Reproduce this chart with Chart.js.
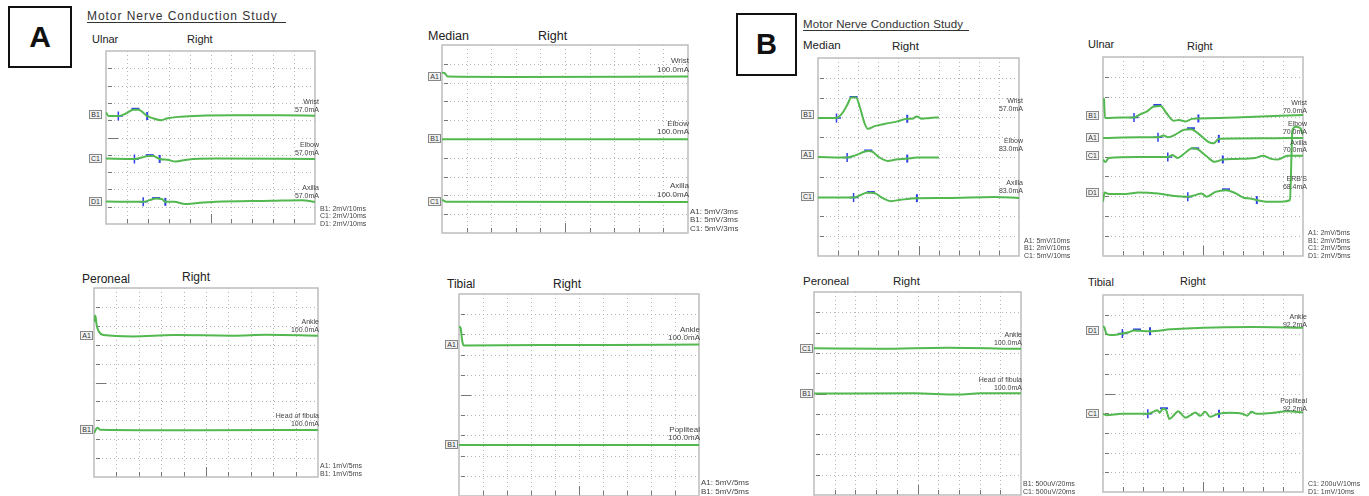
<!DOCTYPE html>
<html>
<head>
<meta charset="utf-8">
<script src="https://cdn.jsdelivr.net/npm/chart.js@4.4.1/dist/chart.umd.min.js"></script>
<style>
body{margin:0;background:#fff;}
#page{position:relative;width:1369px;height:496px;overflow:hidden;background:#fff;font-family:"Liberation Sans",Arial,sans-serif;color:#222;}
#page canvas{position:absolute;}
.t{position:absolute;white-space:nowrap;}
.lbl{position:absolute;white-space:nowrap;text-align:right;color:#444;}
.ch{position:absolute;border:1px solid #888;background:#f2f2f2;color:#333;text-align:center;box-sizing:border-box;}
.big{position:absolute;border:2px solid #111;box-sizing:border-box;font-weight:bold;text-align:center;color:#111;}
</style>
</head>
<body>
<div id="page"></div>
<script>

/* traces, x = time (0-100 across the 10 columns), y = 0-100 over the 10 rows */

const aUlnarB1 = [[0,64.6],[1.2,62.4],[5.9,62.4],[9.3,63.7],[13.2,66.1],[15.5,66.1],[19.7,62.4],[22.5,61.1],[26.4,60.0],[29.5,61.1],[35.7,62.0],[45,62.6],[60.5,62.8],[83.7,62.8],[100,62.6]];
const aUlnarC1 = [[0,37.8],[13.6,37.6],[17.1,38.4],[20.2,39.3],[22.5,39.3],[25.7,37.6],[29.5,37.1],[33.3,36.1],[38.8,37.2],[52.7,37.8],[100,37.6]];
const aUlnarD1 = [[0,13.0],[17.8,12.8],[20.9,13.8],[24,14.7],[26.7,14.5],[28.4,12.8],[32.6,12.8],[38,11.5],[41.9,11.9],[52.7,12.8],[79.1,13.4],[93.8,13.8],[100,12.8]];
const aUlnarOnset = [[5.9,62.4],[13.6,37.6],[17.8,12.8]];
const aUlnarPeak = [[14.1,66.6],[20.9,39.8],[24.0,15.0]];
const aUlnarEnd = [[19.7,62.4],[25.7,37.6],[28.4,12.8]];

const aMedianA1 = [[0,85.3],[1.1,85.0],[2.3,83.2],[27.8,83.0],[100,83.2]];
const aMedianB1 = [[0,49.9],[100,49.9]];
const aMedianC1 = [[0,17.7],[1.8,16.6],[100,16.5]];

const aPeronealA1 = [[0,82],[0.6,85.5],[1.2,80.2],[2.1,77.1],[4.2,75.1],[17.5,74.4],[35.4,75.1],[62.1,74.8],[77,75.3],[100,74.8]];
const aPeronealB1 = [[0,23.3],[1.5,26.1],[2.7,25.0],[47.3,24.7],[100,24.9]];

const aTibialA1 = [[0,83.9],[0.7,83.1],[1.3,77.0],[2.1,74.5],[35.1,74.8],[63,74.7],[100,75.0]];
const aTibialB1 = [[0,25.2],[100,25.2]];

const bMedianB1 = [[0,69.7],[9.2,69.7],[12.1,72.1],[14.5,76.2],[16.6,80.0],[18.9,80.0],[21.0,74.6],[23.1,67.2],[24.7,64.3],[28.2,65.6],[33.1,66.7],[39.5,68.0],[44.4,69.3],[46.8,69.3],[49.2,70.5],[51.6,69.3],[55.6,69.7],[60.2,70.0]];
const bMedianA1 = [[0,50.0],[14.5,49.7],[18.5,50.8],[22.6,52.5],[25.0,53.0],[26.9,52.8],[29.8,50.3],[34.7,48.0],[38.7,48.7],[44.4,49.2],[49.2,49.7],[60.2,49.8]];
const bMedianC1 = [[0,29.5],[17.7,29.5],[21.0,30.7],[24.2,32.0],[26.3,32.0],[28.5,31.6],[32.3,29.2],[36.3,27.7],[41.1,28.4],[49.2,29.2],[63.7,29.3],[87.9,29.8],[100,29.3]];
const bMedianOnset = [[9.2,69.7],[14.5,49.7],[17.7,29.5]];
const bMedianPeak = [[17.7,80.3],[25.0,53.3],[26.3,32.3]];
const bMedianEnd = [[44.4,69.3],[44.4,49.2],[49.2,29.2]];

const bUlnarB1 = [[0.5,79.3],[1.0,69.3],[9.7,69.6],[15.5,69.6],[18.6,71.2],[21.8,72.5],[25.1,75.0],[28.8,75.4],[31.6,72.0],[35.3,68.0],[38.0,68.3],[41.3,67.6],[44.5,68.9],[47.7,69.1],[66.3,69.6],[100,70.9]];
const bUlnarA1 = [[0,59.3],[17.8,59.7],[27.5,59.7],[30.4,60.5],[32.4,59.7],[35.6,60.7],[40.5,63.4],[44.0,63.7],[47.7,61.5],[52.6,57.4],[55.3,56.6],[57.9,58.9],[66.3,59.0],[85.8,59.2],[100,59.3]];
const bUlnarC1 = [[0,48.5],[1.1,47.2],[2.9,49.3],[17.8,49.8],[32.4,49.8],[34.8,50.7],[37.2,49.3],[41.3,52.0],[44.5,54.1],[47.2,53.7],[51.8,50.1],[55.8,47.3],[59.9,48.5],[66.3,48.8],[76.1,49.3],[80.1,50.4],[84.1,48.8],[87.4,48.5],[92.2,50.4],[100,50.4]];
const bUlnarD1 = [[0,27.3],[0.8,31.9],[3.2,31.1],[11.3,31.1],[17.8,31.9],[27.5,31.4],[35.6,30.2],[42.4,29.8],[46.1,30.6],[49.2,31.4],[51.8,29.8],[56.3,32.2],[61.5,33.0],[65.5,31.9],[70.3,29.3],[73.6,28.9],[76.9,28.1],[82.5,27.3],[89.0,27.3],[93.5,28.1],[94.7,63.1],[96.3,65.0],[98.7,64.2],[100,60.7]];
const bUlnarOnset = [[15.5,69.6],[27.5,59.7],[32.4,49.8],[42.4,29.8]];
const bUlnarPeak = [[27.2,75.9],[44.0,64.2],[46.1,54.1],[61.5,33.5]];
const bUlnarEnd = [[47.7,69.1],[57.9,58.9],[59.9,48.5],[76.9,28.1]];

const bPeronealC1 = [[0,72.3],[31.8,72.0],[64.1,72.5],[100,72.0]];
const bPeronealB1 = [[0,50.0],[48,50.1],[69.3,49.5],[80.5,50.1],[100,50.1]];

const bTibialD1 = [[0,84.2],[0.8,83.3],[1.6,80.5],[3.6,79.7],[6.5,79.8],[9.7,80.5],[13,81.1],[15.4,82.0],[18.6,81.8],[23.5,81.6],[34,82.6],[50.2,83.4],[74.6,83.7],[100,83.4]];
const bTibialC1 = [[0,39.8],[1.6,39.0],[9.7,39.7],[22.4,39.7],[25.1,40.7],[27.2,41.5],[28.4,40.3],[30.0,42.3],[31.6,41.5],[33.2,37.1],[35.7,39.3],[37.6,41.0],[39.7,39.0],[41.3,37.7],[43.8,39.0],[46.2,40.3],[48.6,38.7],[51.1,40.7],[53.5,38.2],[55.9,39.0],[58.0,39.7],[63.2,40.2],[69.7,39.7],[72.1,38.7],[74.2,40.7],[77.0,39.7],[82.7,40.0],[89.1,40.7],[92.4,41.0],[100,40.3]];
const bTibialOnset = [[9.7,80.5],[22.4,39.7]];
const bTibialPeak = [[17.0,82.5],[30.5,42.5]];
const bTibialEnd = [[23.5,81.6],[58.0,39.7]];

const gridValues = [10,20,30,40,50,60,70,80,90];

/* panels */

const panels = [
{rect:[103,48,215,179], fs:7, onset:aUlnarOnset, peak:aUlnarPeak, end:aUlnarEnd,
 traces:[{ch:'B1',pts:aUlnarB1,level:62.8,label:['Wrist','57.0mA']},
         {ch:'C1',pts:aUlnarC1,level:37.8,label:['Elbow','57.0mA']},
         {ch:'D1',pts:aUlnarD1,level:13.0,label:['Axilla','57.0mA']}],
 scale:['B1: 2mV/10ms','C1: 2mV/10ms','D1: 2mV/10ms']},
{rect:[442,45,246,188], fs:8, onset:[], peak:[], end:[],
 traces:[{ch:'A1',pts:aMedianA1,level:83.2,label:['Wrist','100.0mA']},
         {ch:'B1',pts:aMedianB1,level:49.9,label:['Elbow','100.0mA']},
         {ch:'C1',pts:aMedianC1,level:16.6,label:['Axilla','100.0mA']}],
 scale:['A1: 5mV/3ms','B1: 5mV/3ms','C1: 5mV/3ms']},
{rect:[94,288,224,189], fs:7, onset:[], peak:[], end:[],
 traces:[{ch:'A1',pts:aPeronealA1,level:74.8,label:['Ankle','100.0mA']},
         {ch:'B1',pts:aPeronealB1,level:25.0,label:['Head of fibula','100.0mA']}],
 scale:['A1: 1mV/5ms','B1: 1mV/5ms']},
{rect:[459,294,240,202], fs:8, onset:[], peak:[], end:[],
 traces:[{ch:'A1',pts:aTibialA1,level:74.7,label:['Ankle','100.0mA']},
         {ch:'B1',pts:aTibialB1,level:25.2,label:['Popliteal','100.0mA']}],
 scale:['A1: 5mV/5ms','B1: 5mV/5ms']},
{rect:[815,55,207,204], fs:7, onset:bMedianOnset, peak:bMedianPeak, end:bMedianEnd,
 traces:[{ch:'B1',pts:bMedianB1,level:71.2,label:['Wrist','57.0mA']},
         {ch:'A1',pts:bMedianA1,level:51.0,label:['Elbow','83.0mA']},
         {ch:'C1',pts:bMedianC1,level:29.8,label:['Axilla','83.0mA']}],
 scale:['A1: 5mV/10ms','B1: 2mV/10ms','C1: 5mV/10ms']},
{rect:[1100,54,206,205], fs:7, onset:bUlnarOnset, peak:bUlnarPeak, end:bUlnarEnd,
 traces:[{ch:'B1',pts:bUlnarB1,level:70.2,label:['Wrist','70.0mA']},
         {ch:'A1',pts:bUlnarA1,level:59.5,label:['Elbow','70.0mA']},
         {ch:'C1',pts:bUlnarC1,level:50.2,label:['Axilla','70.0mA']},
         {ch:'D1',pts:bUlnarD1,level:31.7,label:["ERB'S",'68.4mA']}],
 scale:['A1: 2mV/5ms','B1: 2mV/5ms','C1: 2mV/5ms','D1: 2mV/5ms']},
{rect:[814,292,207,203], fs:7, onset:[], peak:[], end:[],
 traces:[{ch:'C1',pts:bPeronealC1,level:71.9,label:['Ankle','100.0mA']},
         {ch:'B1',pts:bPeronealB1,level:49.8,label:['Head of fibula','100.0mA']}],
 scale:['B1: 500uV/20ms','C1: 500uV/20ms']},
{rect:[1100,292,206,203], fs:7, onset:bTibialOnset, peak:bTibialPeak, end:bTibialEnd,
 traces:[{ch:'D1',pts:bTibialD1,level:81.8,label:['Ankle','92.2mA']},
         {ch:'C1',pts:bTibialC1,level:39.4,label:['Popliteal','92.2mA']}],
 scale:['C1: 200uV/10ms','D1: 1mV/10ms']}
];

/* headings: text, left, centre y, size */
const headings = [
['Ulnar',92,40,11],['Right',187,40,11],
['Median',428,37,12.5],['Right',538,37,12.5],
['Peroneal',82,280,12],['Right',182,278,12],
['Tibial',447,285,12],['Right',553,285,12],
['Median',803,47,11.5],['Right',892,48,11.5],
['Ulnar',1088,45,11],['Right',1187,47,11],
['Peroneal',803,283,11.5],['Right',893,283,11.5],
['Tibial',1088,283,11],['Right',1180,282,11]
];

const page = document.getElementById('page');

function addDiv(cls, text, css){
  const d = document.createElement('div');
  d.className = cls;
  d.innerHTML = text;
  Object.assign(d.style, css);
  page.appendChild(d);
  return d;
}

addDiv('big','A',{left:'8px',top:'6px',width:'64px',height:'62px',fontSize:'30px',lineHeight:'58px'});
addDiv('big','B',{left:'736px',top:'13px',width:'61px',height:'63px',fontSize:'29px',lineHeight:'59px'});
addDiv('t','Motor Nerve Conduction Study',{left:'87px',top:'10px',fontSize:'12px',lineHeight:'12px',letterSpacing:'0.95px',borderBottom:'1px solid #333',paddingRight:'8px',color:'#333'});
addDiv('t','Motor Nerve Conduction Study',{left:'803px',top:'18px',fontSize:'11.5px',lineHeight:'12px',letterSpacing:'0.1px',borderBottom:'1px solid #333',paddingRight:'6px',color:'#333'});

headings.forEach(h => {
  addDiv('t',h[0],{left:h[1]+'px',top:(h[2]-h[3]/2-1)+'px',fontSize:h[3]+'px',lineHeight:h[3]+'px'});
});

/* grid, border and ticks like the scope screen */

const scopeGrid = {
id:'scopeGrid',
beforeDatasetsDraw(chart){
  const ctx = chart.ctx, a = chart.chartArea;
  const x = chart.scales.x, y = chart.scales.y;
  ctx.save();
  ctx.lineWidth = 1;
  ctx.strokeStyle = '#b5b5b5';
  ctx.setLineDash([1,3]);
  gridValues.forEach(v => {
    const px = Math.round(x.getPixelForValue(v)) + 0.5;
    ctx.beginPath(); ctx.moveTo(px,a.top); ctx.lineTo(px,a.bottom); ctx.stroke();
    const py = Math.round(y.getPixelForValue(v)) + 0.5;
    ctx.beginPath(); ctx.moveTo(a.left,py); ctx.lineTo(a.right,py); ctx.stroke();
  });
  ctx.setLineDash([]);
  ctx.strokeStyle = '#777';
  gridValues.forEach(v => {
    const py = Math.round(y.getPixelForValue(v)) + 0.5;
    ctx.beginPath(); ctx.moveTo(a.left+2,py); ctx.lineTo(a.left+(v===50?12:6),py); ctx.stroke();
    const px = Math.round(x.getPixelForValue(v)) + 0.5;
    ctx.beginPath(); ctx.moveTo(px,a.bottom); ctx.lineTo(px,a.bottom-(v===50?10:5)); ctx.stroke();
  });
  ctx.strokeStyle = '#bdbdbd';
  ctx.lineWidth = 1.5;
  ctx.strokeRect(a.left,a.top,a.right-a.left,a.bottom-a.top);
  ctx.restore();
}
};

const green = '#52b84f';
const blue = '#2f3fe6';
const toXY = pts => pts.map(p => ({x:p[0], y:p[1]}));

panels.forEach(p => {
  const [L,T,W,H] = p.rect;
  const cv = document.createElement('canvas');
  cv.width = W+6; cv.height = H+6;
  cv.style.left = (L-3)+'px'; cv.style.top = (T-3)+'px';
  page.appendChild(cv);

  const datasets = p.traces.map(t => ({
    type:'line', data:toXY(t.pts), borderColor:green, borderWidth:2,
    pointRadius:0, cubicInterpolationMode:'monotone', fill:false
  }));
  datasets.push({type:'scatter', data:toXY(p.onset), pointStyle:'cross', pointRadius:4.5, borderColor:blue, borderWidth:1.5});
  datasets.push({type:'scatter', data:toXY(p.peak), pointStyle:'line', pointRadius:4, borderColor:blue, borderWidth:2});
  datasets.push({type:'scatter', data:toXY(p.end), pointStyle:'line', rotation:90, pointRadius:4, borderColor:blue, borderWidth:2});

  const chart = new Chart(cv,{
    type:'line',
    data:{datasets:datasets},
    options:{
      responsive:false, animation:false, events:[],
      layout:{padding:3},
      plugins:{legend:{display:false}, tooltip:{enabled:false}},
      scales:{
        x:{type:'linear', min:0, max:100, display:false},
        y:{type:'linear', min:0, max:100, display:false}
      }
    },
    plugins:[scopeGrid]
  });

  const lh = p.fs + 0.8;
  p.traces.forEach(t => {
    const py = T - 3 + chart.scales.y.getPixelForValue(t.level);
    addDiv('ch',t.ch,{left:(L-14)+'px',top:(py-5)+'px',width:'13px',height:'9px',fontSize:'7px',lineHeight:'7px'});
    addDiv('lbl',t.label.join('<br>'),{right:(1369-(L+W)-1)+'px',bottom:(496-py+2)+'px',fontSize:p.fs+'px',lineHeight:lh+'px'});
  });
  addDiv('t',p.scale.join('<br>'),{left:(L+W+2)+'px',bottom:(496-(T+H)-1)+'px',fontSize:p.fs+'px',lineHeight:lh+'px',color:'#444'});
});

</script>
</body>
</html>
